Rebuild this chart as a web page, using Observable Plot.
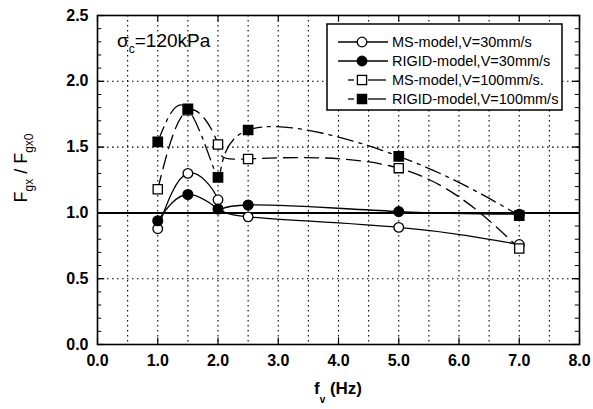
<!DOCTYPE html>
<html>
<head>
<meta charset="utf-8">
<script src="https://cdn.jsdelivr.net/npm/d3@7"></script>
<script src="https://cdn.jsdelivr.net/npm/@observablehq/plot@0.6"></script>
<style>
  html, body { margin: 0; padding: 0; background: white; }
</style>
</head>
<body>
<div id="chart"></div>
<script>
// Data
const fv = [1, 1.5, 2, 2.5, 5, 7];
const msV30 = [0.88, 1.30, 1.10, 0.97, 0.89, 0.76];
const rigidV30 = [0.94, 1.14, 1.03, 1.06, 1.01, 0.99];
const msV100 = [1.18, 1.78, 1.52, 1.41, 1.34, 0.73];
const rigidV100 = [1.54, 1.79, 1.27, 1.63, 1.43, 0.98];

const xTicks = [0, 1, 2, 3, 4, 5, 6, 7, 8];
const yTicks = [0, 0.5, 1.0, 1.5, 2.0, 2.5];
const xGrid = d3.range(0.5, 8, 0.5);
const yGrid = [0.5, 1.5, 2.0];
const yMinor = d3.range(0.1, 2.5, 0.1);

const legendLabels = [
  "MS-model,V=30mm/s",
  "RIGID-model,V=30mm/s",
  "MS-model,V=100mm/s.",
  "RIGID-model,V=100mm/s"
];

const toRows = (ys) => fv.map((x, i) => ({x, y: ys[i]}));
const ms30 = toRows(msV30), rg30 = toRows(rigidV30), ms100 = toRows(msV100), rg100 = toRows(rigidV100);

const FONT = "'Liberation Sans', Arial, Helvetica, sans-serif";

const plot = Plot.plot({
  width: 593,
  height: 409,
  marginLeft: 97,
  marginRight: 14,
  marginTop: 15,
  marginBottom: 65,
  style: {fontFamily: FONT, background: "white", color: "black"},
  x: {domain: [0, 8]},
  y: {domain: [0, 2.5]},
  marks: [
    Plot.ruleX(xGrid, {stroke: "black", strokeWidth: 1.1, strokeDasharray: "1.5,3.5"}),
    Plot.ruleY(yGrid, {stroke: "black", strokeWidth: 1.1, strokeDasharray: "1.5,3.5"}),
    Plot.ruleY([1.0], {stroke: "black", strokeWidth: 2}),
    // inward ticks
    Plot.ruleY(yMinor, {x1: 0, x2: 0.07, stroke: "black"}),
    Plot.ruleY(yMinor, {x1: 7.93, x2: 8, stroke: "black"}),
    Plot.ruleY(yTicks, {x1: 0, x2: 0.12, stroke: "black", strokeWidth: 1.2}),
    Plot.ruleY(yTicks, {x1: 7.88, x2: 8, stroke: "black", strokeWidth: 1.2}),
    Plot.ruleX(xTicks, {y1: 0, y2: 0.05, stroke: "black", strokeWidth: 1.2}),
    Plot.ruleX(xTicks, {y1: 2.45, y2: 2.5, stroke: "black", strokeWidth: 1.2}),
    // curves
    Plot.line(ms30, {x: "x", y: "y", curve: "natural", stroke: "black", strokeWidth: 1.3}),
    Plot.line(rg30, {x: "x", y: "y", curve: "natural", stroke: "black", strokeWidth: 1.3}),
    Plot.line(ms100, {x: "x", y: "y", curve: "natural", stroke: "black", strokeWidth: 1.3, strokeDasharray: "14,7"}),
    Plot.line(rg100, {x: "x", y: "y", curve: "natural", stroke: "black", strokeWidth: 1.3, strokeDasharray: "16,6,3,6"}),
    // markers
    Plot.dot(ms30, {x: "x", y: "y", symbol: "circle", r: 4.8, fill: "white", stroke: "black", strokeWidth: 1.3}),
    Plot.dot(rg30, {x: "x", y: "y", symbol: "circle", r: 4.8, fill: "black", stroke: "black"}),
    Plot.dot(ms100, {x: "x", y: "y", symbol: "square", r: 5.2, fill: "white", stroke: "black", strokeWidth: 1.3}),
    Plot.dot(rg100, {x: "x", y: "y", symbol: "square", r: 5.2, fill: "black", stroke: "black"}),
    Plot.axisX({ticks: xTicks, tickFormat: d3.format(".1f"), tickSize: 0, tickPadding: 10, fontSize: 16, fontWeight: "bold", label: null}),
    Plot.axisY({ticks: yTicks, tickFormat: d3.format(".1f"), tickSize: 0, tickPadding: 9, fontSize: 16, fontWeight: "bold", label: null}),
    Plot.frame({stroke: "black", strokeWidth: 1.6})
  ]
});

document.getElementById("chart").appendChild(plot);

const svg = d3.select(plot);

// Y-axis title
const yt = svg.append("text")
  .attr("transform", "translate(27,168) rotate(-90)")
  .attr("text-anchor", "middle")
  .attr("font-family", FONT)
  .attr("font-size", 18)
  .attr("fill", "black");
yt.append("tspan").text("F");
yt.append("tspan").attr("font-size", 12).attr("dy", 6).text("gx");
yt.append("tspan").attr("dy", -6).text(" / F");
yt.append("tspan").attr("font-size", 12).attr("dy", 6).text("gx0");

// X-axis title
const xt = svg.append("text")
  .attr("x", 338).attr("y", 394)
  .attr("text-anchor", "middle")
  .attr("font-family", FONT)
  .attr("font-size", 17)
  .attr("font-weight", "bold")
  .attr("fill", "black");
xt.append("tspan").text("f");
xt.append("tspan").attr("font-size", 10).attr("dy", 9).text("v");
xt.append("tspan").attr("dy", -9).text(" (Hz)");

// sigma annotation
const st = svg.append("text")
  .attr("x", 117).attr("y", 47)
  .attr("text-anchor", "start")
  .attr("font-family", FONT)
  .attr("font-size", 19)
  .attr("fill", "black");
st.append("tspan").text("σ");
st.append("tspan").attr("font-size", 12).attr("dy", 6).text("c");
st.append("tspan").attr("dy", -6).text("=120kPa");

// Legend
const lg = svg.append("g");
lg.append("rect").attr("x", 327).attr("y", 24).attr("width", 235).attr("height", 86)
  .attr("fill", "white").attr("stroke", "black").attr("stroke-width", 1.5);
const rowsY = [42, 61, 80, 99];
rowsY.forEach((y, i) => {
  if (i < 2) {
    lg.append("line").attr("x1", 338).attr("x2", 388).attr("y1", y).attr("y2", y)
      .attr("stroke", "black").attr("stroke-width", 1.3);
  } else {
    lg.append("line").attr("x1", 348).attr("x2", 354).attr("y1", y).attr("y2", y)
      .attr("stroke", "black").attr("stroke-width", 1.3);
    lg.append("line").attr("x1", 368).attr("x2", 386).attr("y1", y).attr("y2", y)
      .attr("stroke", "black").attr("stroke-width", 1.3);
  }
  const filled = (i % 2 === 1);
  if (i < 2) {
    lg.append("circle").attr("cx", 362).attr("cy", y).attr("r", 4.8)
      .attr("fill", filled ? "black" : "white").attr("stroke", "black").attr("stroke-width", 1.3);
  } else {
    lg.append("rect").attr("x", 362 - 4.6).attr("y", y - 4.6).attr("width", 9.2).attr("height", 9.2)
      .attr("fill", filled ? "black" : "white").attr("stroke", "black").attr("stroke-width", 1.3);
  }
  lg.append("text").attr("x", 392).attr("y", y + 5)
    .attr("text-anchor", "start")
    .attr("font-family", FONT).attr("font-size", 14.5).attr("fill", "black")
    .text(legendLabels[i]);
});
</script>
</body>
</html>
